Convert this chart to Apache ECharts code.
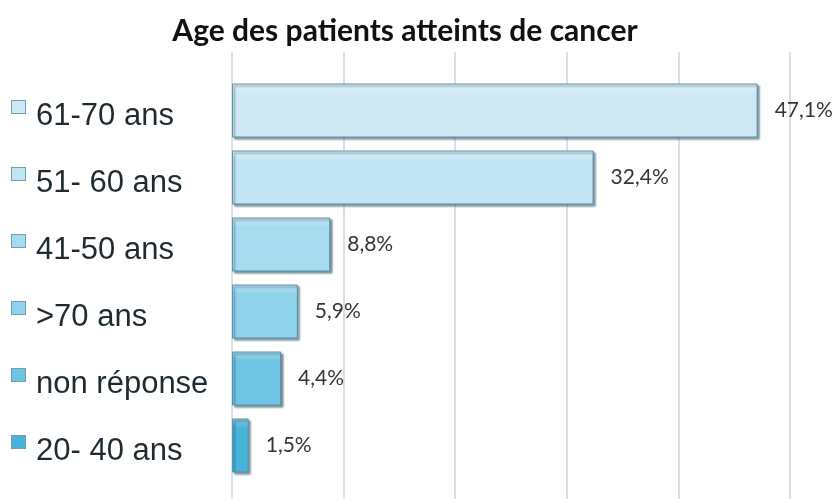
<!DOCTYPE html>
<html>
<head>
<meta charset="utf-8">
<script src="https://cdn.jsdelivr.net/npm/echarts@6/dist/echarts.min.js"></script>
<style>
  html, body { margin: 0; padding: 0; background: #fff; }
  #chart { width: 839px; height: 499px; }
</style>
</head>
<body>
<div id="chart"></div>
<script>
var categories = ["61-70 ans", "51- 60 ans", "41-50 ans", ">70 ans", "non réponse", "20- 40 ans"];
var percents = [47.1, 32.4, 8.8, 5.9, 4.4, 1.5];
var xTicks = [0, 10, 20, 30, 40, 50];

// bar colours, lightest at the top
var fills = ["#cfe9f4", "#c2e5f3", "#a7dbef", "#8fd2eb", "#6ec4e3", "#47b3d9"];
var tops = ["#e6f4fa", "#e0f2fa", "#cdebf7", "#bce5f4", "#a3dbef", "#86cde8"];

var chartDom = document.getElementById("chart");
var myChart = echarts.init(chartDom);
var option;

var rich = {
  t: {
    fontFamily: "Liberation Sans",
    fontSize: 31,
    color: "#1f2b31",
    padding: [0, 0, 0, 11]
  }
};
fills.forEach(function (c, i) {
  rich["i" + i] = {
    width: 13,
    height: 12,
    backgroundColor: c,
    borderColor: "#6f9fb2",
    borderWidth: 1,
    verticalAlign: "top"
  };
});

option = {
  animation: false,
  title: {
    text: "Age des patients atteints de cancer",
    left: 400,
    textAlign: "center",
    top: 11,
    textStyle: {
      fontFamily: "Lato",
      fontWeight: "bold",
      fontSize: 30,
      color: "#111"
    }
  },
  grid: [
    { left: 232, right: 49, top: 52, bottom: 0 },
    { left: 232, right: 49, top: 77, bottom: 20 }
  ],
  xAxis: [
    {
      gridIndex: 0,
      type: "value",
      min: xTicks[0],
      max: xTicks[xTicks.length - 1],
      interval: 10,
      axisLabel: { show: false },
      axisLine: { show: false },
      axisTick: { show: false },
      splitLine: { show: true, lineStyle: { color: "#cdd6dc", width: 1.5 } }
    },
    {
      gridIndex: 1,
      type: "value",
      min: xTicks[0],
      max: xTicks[xTicks.length - 1],
      show: false,
      splitLine: { show: false }
    }
  ],
  yAxis: [
    { gridIndex: 0, type: "value", show: false },
    {
      gridIndex: 1,
      type: "category",
      inverse: true,
      data: categories,
      axisLine: { show: false },
      axisTick: { show: false },
      axisLabel: {
        align: "left",
        margin: 220,
        padding: [12, 0, 0, 0],
        formatter: function (value, idx) {
          return "{i" + idx + "|}{t|" + value + "}";
        },
        rich: rich
      }
    }
  ],
  series: [
    {
      type: "bar",
      xAxisIndex: 1,
      yAxisIndex: 1,
      barWidth: 54,
      data: percents.map(function (v, i) {
        return {
          value: v,
          itemStyle: {
            color: new echarts.graphic.LinearGradient(0, 0, 0, 1, [
              { offset: 0, color: tops[i] },
              { offset: 0.18, color: fills[i] },
              { offset: 1, color: fills[i] }
            ])
          }
        };
      }),
      itemStyle: {
        borderColor: "#5f90a4",
        borderWidth: 1,
        shadowColor: "rgba(20, 60, 80, 0.55)",
        shadowBlur: 2,
        shadowOffsetX: 2,
        shadowOffsetY: 2
      },
      label: {
        show: true,
        position: "right",
        distance: 17,
        fontFamily: "Lato",
        fontSize: 21,
        color: "#363636",
        formatter: function (p) {
          return p.value.toFixed(1).replace(".", ",") + "%";
        }
      }
    }
  ]
};

option && myChart.setOption(option);
</script>
</body>
</html>
